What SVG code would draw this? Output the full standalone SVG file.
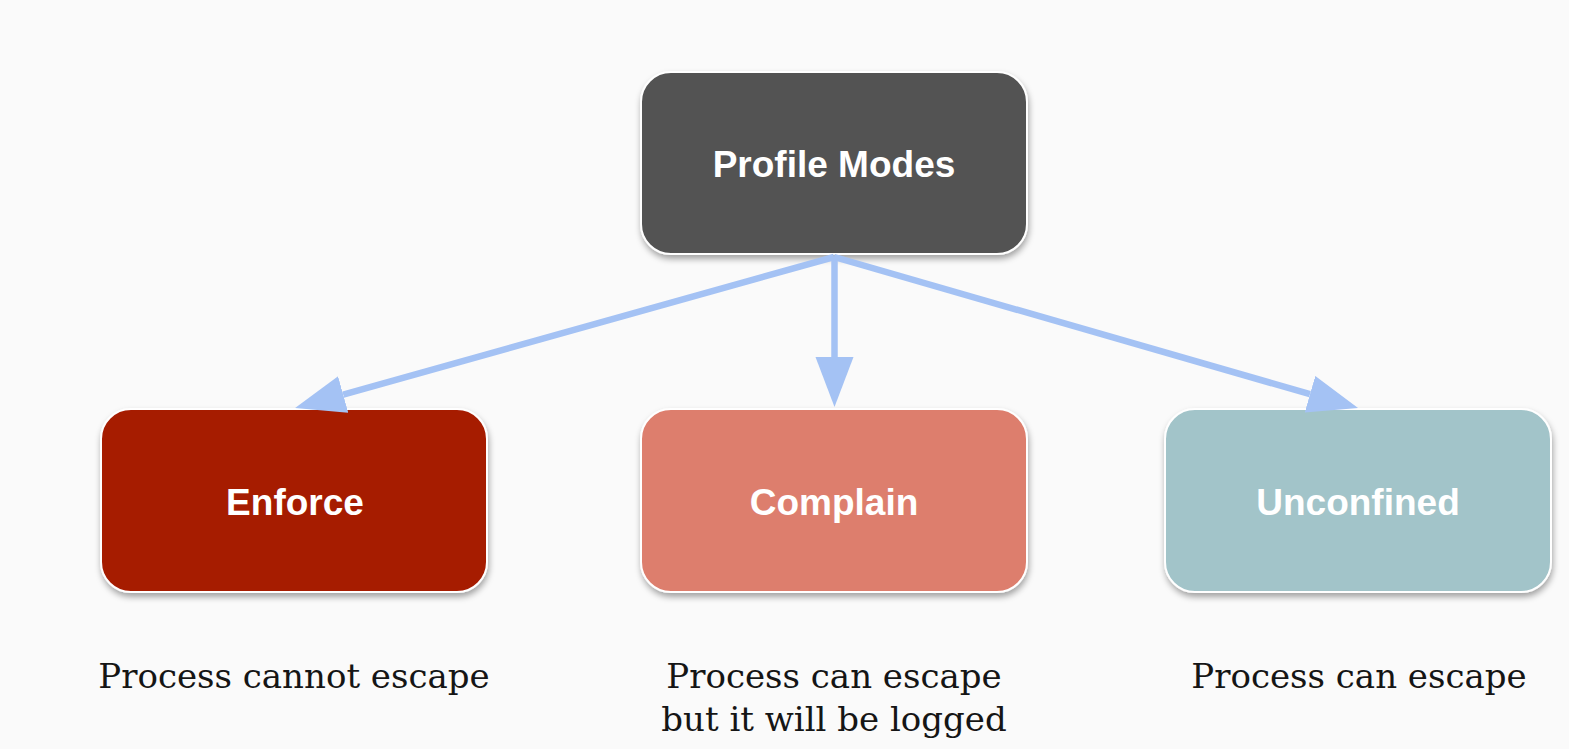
<svg xmlns="http://www.w3.org/2000/svg" width="1569" height="749" viewBox="0 0 1569 749">
  <style>
    .box { stroke: #ffffff; stroke-width: 2; filter: url(#shadow); }
    .label { font-family: "Liberation Sans", Arial, sans-serif; font-weight: bold; font-size: 37px; fill: #ffffff; text-anchor: middle; }
    .caption { font-family: "DejaVu Serif", "Liberation Serif", serif; font-size: 34px; fill: #151515; text-anchor: middle; }
    .conn { stroke: #a4c2f4; stroke-width: 6.5; fill: none; marker-end: url(#head); }
  </style>
  <defs>
    <filter id="shadow" x="-10%" y="-10%" width="125%" height="130%">
      <feDropShadow dx="1" dy="4" stdDeviation="3" flood-color="#000000" flood-opacity="0.35"/>
    </filter>
    <marker id="head" markerUnits="userSpaceOnUse" markerWidth="52" markerHeight="40" refX="0" refY="19" orient="auto">
      <path d="M0,0 L50,19 L0,38 Z" fill="#a4c2f4"/>
    </marker>
  </defs>
  <rect width="1569" height="749" fill="#fafafa"/>

  <g id="node-profile-modes">
    <rect class="box" x="641" y="72" width="386" height="182" rx="30" fill="#535353"/>
    <text class="label" x="834" y="177">Profile Modes</text>
  </g>
  <g id="node-enforce">
    <rect class="box" x="101" y="409" width="386" height="183" rx="30" fill="#a61c04"/>
    <text class="label" x="295" y="515">Enforce</text>
  </g>
  <g id="node-complain">
    <rect class="box" x="641" y="409" width="386" height="183" rx="30" fill="#dd7e6d"/>
    <text class="label" x="834" y="515">Complain</text>
  </g>
  <g id="node-unconfined">
    <rect class="box" x="1165" y="409" width="386" height="183" rx="30" fill="#a2c4c9"/>
    <text class="label" x="1358" y="515">Unconfined</text>
  </g>

  <g id="connectors">
    <line class="conn" x1="834" y1="257" x2="343.2" y2="394.6"/>
    <line class="conn" x1="834.5" y1="257" x2="834.5" y2="357"/>
    <line class="conn" x1="834" y1="257" x2="1310" y2="394.2"/>
  </g>

  <g id="captions">
    <text class="caption" x="294" y="688">Process cannot escape</text>
    <text class="caption" x="834" y="688">Process can escape</text>
    <text class="caption" x="834" y="731">but it will be logged</text>
    <text class="caption" x="1359" y="688">Process can escape</text>
  </g>
</svg>
